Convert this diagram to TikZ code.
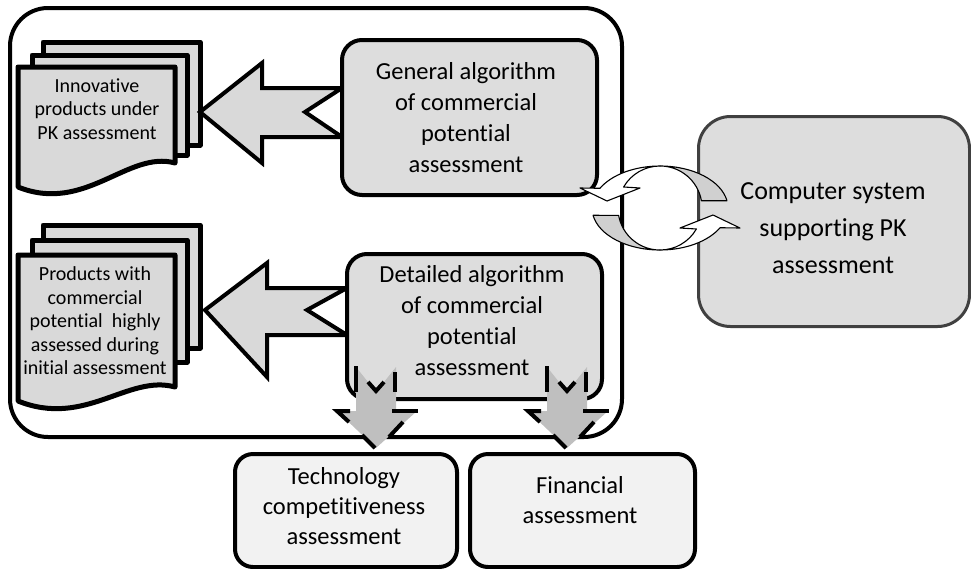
\documentclass[tikz,border=0pt]{standalone}
\usepackage{fontspec}
\setmainfont{Carlito}[Ligatures=NoCommon]
\definecolor{boxgray}{RGB}{221,221,221}
\definecolor{docgray}{RGB}{217,217,217}
\definecolor{arrowgray}{RGB}{191,191,191}
\definecolor{lightbox}{RGB}{242,242,242}
\definecolor{darkline}{RGB}{64,64,64}
\definecolor{ribbongray}{RGB}{208,208,208}
\begin{document}
\begin{tikzpicture}[x=1pt,y=-1pt,line join=round,
  outerframe/.style={draw,line width=4pt,rounded corners=38pt},
  algbox/.style={draw,line width=4pt,fill=boxgray,rounded corners=20pt,anchor=north west,inner sep=0pt},
  compbox/.style={draw=darkline,line width=3pt,fill=boxgray,rounded corners=32pt,anchor=north west,inner sep=0pt},
  resbox/.style={draw,line width=4pt,fill=lightbox,rounded corners=18pt,anchor=north west,inner sep=0pt},
  page/.style={draw,line width=5pt,fill=docgray},
  blockarrow/.style={draw,line width=4pt,fill=docgray,line join=miter},
  downfill/.style={fill=arrowgray},
  downedge/.style={draw,line width=4pt,line cap=butt,line join=miter},
  ribbon/.style={draw,line width=1.1pt,fill=white},
  ribbonback/.style={draw,line width=1.1pt,fill=ribbongray},
  doctext/.style={font=\fontsize{20}{23.5}\selectfont,align=center,inner sep=0pt},
  algtext/.style={font=\fontsize{24.5}{31}\selectfont,align=center,inner sep=0pt},
  restext/.style={font=\fontsize{24.5}{30}\selectfont,align=center,inner sep=0pt},
  comptext/.style={font=\fontsize{26}{37}\selectfont,align=center,inner sep=0pt}]
\useasboundingbox (0,0) rectangle (971,568);

% enclosing frame of the assessment module
\draw[outerframe] (10,8) rectangle (622,437);

% computer system box
\node[compbox,minimum width=271pt,minimum height=210pt] (comp) at (697,115) {};
\node[comptext] (comptxt) at (833,228) {Computer system\\supporting PK\\assessment};

% first document stack
\draw[page] (43,42) rectangle (200,145);
\draw[page] (32,55) rectangle (187,155);
\draw[page] (18,67) -- (175,67) -- (175,163) .. controls (128,150) and (85,214) .. (18,187) -- cycle;
\node[doctext] (docA) at (97,109) {Innovative\\products under\\PK assessment};

% second document stack
\draw[page] (43,225) rectangle (200,348);
\draw[page] (32,240) rectangle (187,362);
\draw[page] (18,255) -- (175,255) -- (175,387) .. controls (128,374) and (85,428) .. (18,401) -- cycle;
\node[doctext] (docB) at (95,321) {Products with\\commercial\\potential\ \ highly\\assessed during\\initial assessment};

% block arrows pointing to the document stacks
\draw[blockarrow] (342,88) -- (262,88) -- (262,63) -- (200,112) -- (262,163) -- (262,137) -- (342,137) -- (305,112) -- cycle;
\draw[blockarrow] (347,288) -- (267,288) -- (267,263) -- (205,310) -- (267,377) -- (267,335) -- (347,335) -- (307,310) -- cycle;

% algorithm boxes
\node[algbox,minimum width=255pt,minimum height=155pt] (general) at (340,38) {};
\node[algtext] (gentxt) at (466,118) {General algorithm\\of commercial\\potential\\assessment};
\node[algbox,minimum width=255pt,minimum height=145pt] (detailed) at (345,252) {};
\node[algtext] (dettxt) at (472,321) {Detailed algorithm\\of commercial\\potential\\assessment};

% result boxes
\node[resbox,minimum width=222pt,minimum height=113pt] (tech) at (233,452) {};
\node[restext] (techtxt) at (344,506) {Technology\\competitiveness\\assessment};
\node[resbox,minimum width=225pt,minimum height=113pt] (fin) at (468,452) {};
\node[restext] (fintxt) at (580,500) {Financial\\assessment};

% arrows from the detailed algorithm to the result boxes (broken outline)
\foreach \cx in {376,567}{
  \begin{scope}[xshift=\cx pt]
    \path[downfill] (-20,367) -- (0,392) -- (20,367) -- (20,411) -- (41,411) -- (0,448) -- (-39,411) -- (-20,411) -- cycle;
    \draw[downedge] (-20,366) -- (-20,392);
    \draw[downedge] (19,372) -- (19,392);
    \draw[downedge] (-8,382) -- (0,391) -- (8,382);
    \draw[downedge] (-26,411) -- (-39,411) -- (-27,422);
    \draw[downedge] (16,411) -- (42,411);
    \draw[downedge] (27,422) -- (13,437);
    \draw[downedge] (-14,435) -- (-1,448);
  \end{scope}
}

% exchange cycle between the module and the computer system
\foreach \r in {0,180}{
  \begin{scope}[rotate around={\r:(660,208)}]
    \path[ribbonback] (660,166) arc[start angle=-90,end angle=-10,x radius=68,y radius=42]
      -- (701.4,200.7) arc[start angle=-10,end angle=-90,radius=42] -- cycle;
    \path[ribbon] (660,166) arc[start angle=-90,end angle=-152,x radius=68,y radius=42]
      -- (580,188) -- (607,201) -- (640,188) -- (623.6,187)
      arc[start angle=-150,end angle=-90,radius=42] -- cycle;
  \end{scope}
}
\end{tikzpicture}
\end{document}
